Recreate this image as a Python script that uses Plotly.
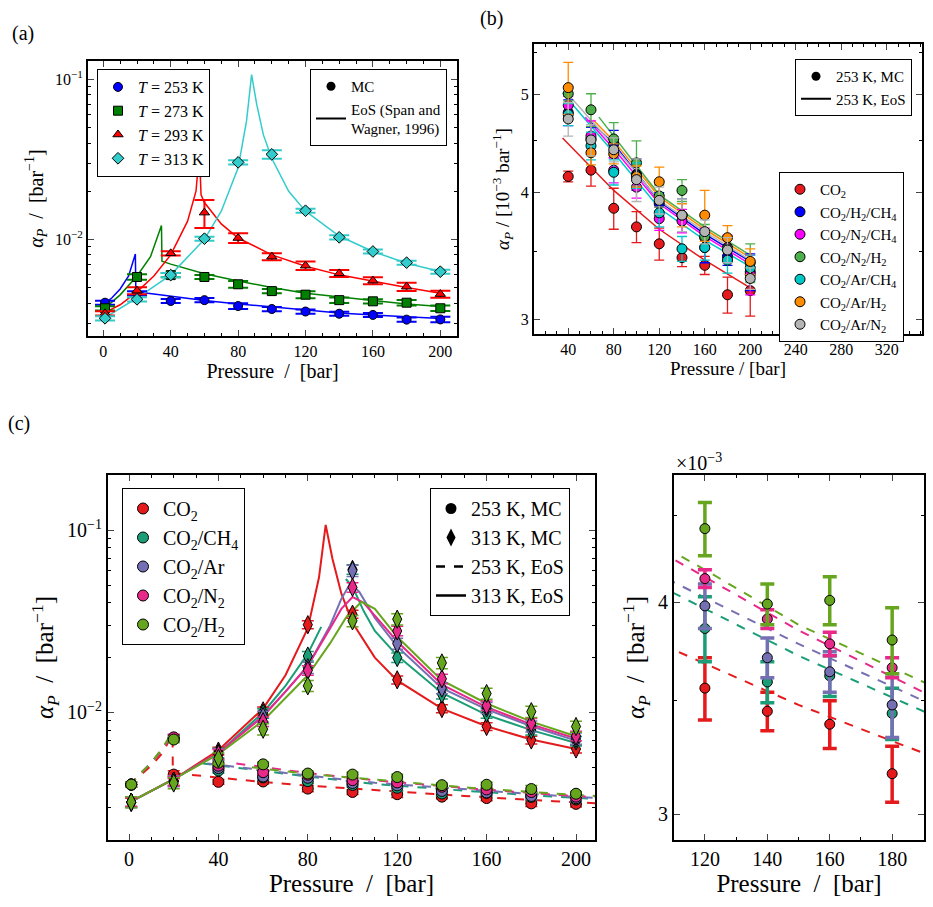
import plotly.graph_objects as go
import numpy as np

FONT = "Liberation Serif, DejaVu Serif, serif"
W, H = 933, 907

# ---------------- Panel (a) data ----------------
pa_x = [1, 20, 40, 60, 80, 100, 120, 140, 160, 180, 200]
a_T = ["253", "273", "293", "313"]
a_val = {
    "253": [4.02e-3, 4.6e-3, 4.12e-3, 4.17e-3, 3.83e-3, 3.67e-3, 3.54e-3, 3.43e-3, 3.37e-3, 3.15e-3, 3.16e-3],
    "273": [3.71e-3, 5.82e-3, 5.98e-3, 5.82e-3, 5.24e-3, 4.75e-3, 4.51e-3, 4.17e-3, 4.1e-3, 4.02e-3, 3.71e-3],
    "293": [3.45e-3, 4.78e-3, 8.18e-3, 1.47e-2, 1.02e-2, 7.8e-3, 6.85e-3, 6.13e-3, 5.52e-3, 5.06e-3, 4.55e-3],
    "313": [3.21e-3, 4.22e-3, 5.98e-3, 1.01e-2, 3.03e-2, 3.4e-2, 1.51e-2, 1.03e-2, 8.4e-3, 7.15e-3, 6.28e-3],
}
a_relerr = {
    "253": [0.03, 0.03, 0.03, 0.03, 0.04, 0.03, 0.03, 0.03, 0.03, 0.03, 0.04],
    "273": [0.03, 0.04, 0.03, 0.03, 0.05, 0.03, 0.05, 0.04, 0.03, 0.04, 0.04],
    "293": [0.03, 0.05, 0.03, 0.2, 0.07, 0.05, 0.06, 0.05, 0.05, 0.06, 0.05],
    "313": [0.03, 0.03, 0.03, 0.03, 0.03, 0.06, 0.03, 0.03, 0.03, 0.03, 0.03],
}
a_eos_p = {
    "253": [0, 5, 10, 15, 19, 19.3, 30, 40, 60, 80, 100, 120, 140, 160, 180, 200],
    "273": [0, 10, 20, 28, 34.5, 34.8, 40, 60, 80, 100, 120, 140, 160, 180, 200],
    "293": [0, 10, 20, 30, 40, 50, 55, 57, 58, 60, 70, 80, 100, 120, 140, 160, 180, 200],
    "313": [0, 20, 40, 60, 70, 80, 85, 88, 91, 95, 100, 110, 120, 140, 160, 180, 200],
}
a_eos_v = {
    "253": [3.95e-3, 4.3e-3, 4.9e-3, 5.9e-3, 8.1e-3, 4.7e-3, 4.55e-3, 4.4e-3, 4.15e-3, 3.95e-3, 3.78e-3, 3.6e-3, 3.47e-3, 3.37e-3, 3.28e-3, 3.2e-3],
    "273": [3.65e-3, 4.5e-3, 5.9e-3, 7.8e-3, 1.22e-2, 7.3e-3, 7.0e-3, 6.1e-3, 5.5e-3, 5.0e-3, 4.6e-3, 4.35e-3, 4.15e-3, 3.95e-3, 3.8e-3],
    "293": [3.45e-3, 3.9e-3, 4.7e-3, 5.9e-3, 8.0e-3, 1.3e-2, 2.0e-2, 3.5e-2, 1.9e-2, 1.7e-2, 1.25e-2, 1.02e-2, 8.0e-3, 6.8e-3, 6.0e-3, 5.45e-3, 5.0e-3, 4.6e-3],
    "313": [3.2e-3, 4.3e-3, 6.0e-3, 1.0e-2, 1.5e-2, 2.8e-2, 5.5e-2, 1.07e-1, 7.0e-2, 4.5e-2, 3.2e-2, 2.0e-2, 1.5e-2, 1.05e-2, 8.4e-3, 7.1e-3, 6.3e-3],
}
a_col = {"253": "#0000ff", "273": "#008000", "293": "#ff0000", "313": "#33cccc"}
a_sym = {"253": "circle", "273": "square", "293": "triangle-up", "313": "diamond"}

# ---------------- Panel (b) data (units 1e-3 bar^-1) ----------------
pb_x = [40, 60, 80, 100, 120, 140, 160, 180, 200]
b_names = ["CO<sub>2</sub>", "CO<sub>2</sub>/H<sub>2</sub>/CH<sub>4</sub>", "CO<sub>2</sub>/N<sub>2</sub>/CH<sub>4</sub>",
           "CO<sub>2</sub>/N<sub>2</sub>/H<sub>2</sub>", "CO<sub>2</sub>/Ar/CH<sub>4</sub>", "CO<sub>2</sub>/Ar/H<sub>2</sub>",
           "CO<sub>2</sub>/Ar/N<sub>2</sub>"]
b_col = ["#e41a1c", "#0000ff", "#ff00ff", "#4daf4a", "#00c8c8", "#ff8c00", "#b4b4b4"]
b_val = [
    [4.15, 4.21, 3.86, 3.70, 3.56, 3.45, 3.39, 3.17, 3.20],
    [4.80, 4.52, 4.47, 4.17, 3.90, 3.80, 3.53, 3.46, 3.34],
    [4.88, 4.55, 4.21, 4.05, 3.77, 3.75, 3.61, 3.53, 3.32],
    [5.01, 4.83, 4.52, 4.28, 3.97, 4.02, 3.62, 3.52, 3.41],
    [4.78, 4.45, 4.19, 4.16, 3.82, 3.52, 3.53, 3.43, 3.37],
    [5.08, 4.38, 4.37, 4.15, 4.10, 3.80, 3.80, 3.61, 3.42],
    [4.73, 4.51, 4.41, 4.12, 3.93, 3.80, 3.66, 3.51, 3.29],
]
b_err = [
    [0.05, 0.15, 0.18, 0.13, 0.13, 0.07, 0.07, 0.13, 0.18],
    [0.14, 0.12, 0.14, 0.15, 0.10, 0.14, 0.12, 0.07, 0.14],
    [0.10, 0.16, 0.12, 0.10, 0.10, 0.10, 0.08, 0.10, 0.15],
    [0.08, 0.18, 0.17, 0.22, 0.10, 0.10, 0.10, 0.10, 0.15],
    [0.12, 0.14, 0.12, 0.12, 0.12, 0.10, 0.10, 0.10, 0.10],
    [0.30, 0.12, 0.10, 0.10, 0.14, 0.10, 0.22, 0.10, 0.10],
    [0.18, 0.16, 0.12, 0.20, 0.12, 0.14, 0.10, 0.10, 0.08],
]
b_eos_p = [[35, 80, 120, 160, 200], [58, 80, 120, 160, 200], [55, 80, 120, 160, 200],
           [67, 80, 120, 160, 200], [35, 80, 120, 160, 200], [62, 80, 120, 160, 200], [40, 80, 120, 160, 200]]
b_eos_v = [[4.53, 4.02, 3.68, 3.43, 3.22], [4.72, 4.47, 3.92, 3.64, 3.42], [4.75, 4.42, 3.90, 3.62, 3.40],
           [4.75, 4.55, 3.98, 3.70, 3.47], [5.02, 4.38, 3.86, 3.59, 3.38], [4.72, 4.50, 3.96, 3.68, 3.45],
           [5.00, 4.45, 3.93, 3.66, 3.43]]

# ---------------- Panel (c)/(d) data ----------------
pc_x = [1, 20, 40, 60, 80, 100, 120, 140, 160, 180, 200]
c_names = ["CO<sub>2</sub>", "CO<sub>2</sub>/CH<sub>4</sub>", "CO<sub>2</sub>/Ar", "CO<sub>2</sub>/N<sub>2</sub>", "CO<sub>2</sub>/H<sub>2</sub>"]
c_col = ["#e41a1c", "#1b9e77", "#7570b3", "#e7298a", "#66a61e"]
c253 = [
    [4.02e-3, 4.56e-3, 4.16e-3, 4.18e-3, 3.82e-3, 3.66e-3, 3.56e-3, 3.45e-3, 3.39e-3, 3.17e-3, 3.15e-3],
    [4.02e-3, 7.2e-3, 4.8e-3, 4.4e-3, 4.2e-3, 4.0e-3, 3.86e-3, 3.59e-3, 3.62e-3, 3.44e-3, 3.33e-3],
    [4.02e-3, 7.25e-3, 4.95e-3, 4.45e-3, 4.38e-3, 4.1e-3, 3.98e-3, 3.71e-3, 3.64e-3, 3.48e-3, 3.38e-3],
    [4.02e-3, 7.3e-3, 5.1e-3, 4.7e-3, 4.55e-3, 4.25e-3, 4.13e-3, 3.91e-3, 3.78e-3, 3.66e-3, 3.45e-3],
    [4.02e-3, 7.1e-3, 5.3e-3, 5.19e-3, 4.62e-3, 4.56e-3, 4.42e-3, 3.99e-3, 4.01e-3, 3.80e-3, 3.58e-3],
]
c253_err = [
    [0.03, 0.05, 0.03, 0.03, 0.04, 0.03, 0.15e-3, 0.09e-3, 0.11e-3, 0.12e-3, 0.04],
    [0.03, 0.04, 0.03, 0.03, 0.03, 0.03, 0.17e-3, 0.10e-3, 0.10e-3, 0.12e-3, 0.03],
    [0.03, 0.04, 0.03, 0.03, 0.03, 0.03, 0.12e-3, 0.10e-3, 0.10e-3, 0.15e-3, 0.03],
    [0.03, 0.04, 0.03, 0.03, 0.03, 0.03, 0.05e-3, 0.05e-3, 0.06e-3, 0.05e-3, 0.03],
    [0.03, 0.04, 0.03, 0.03, 0.03, 0.03, 0.16e-3, 0.11e-3, 0.13e-3, 0.17e-3, 0.03],
]
c313 = [
    [3.22e-3, 4.2e-3, 6.14e-3, 1.02e-2, 3.03e-2, 3.46e-2, 1.51e-2, 1.05e-2, 8.37e-3, 7.06e-3, 6.3e-3],
    [3.22e-3, 4.2e-3, 6.0e-3, 9.9e-3, 2.04e-2, 6.1e-2, 2.0e-2, 1.26e-2, 9.9e-3, 8.0e-3, 6.97e-3],
    [3.22e-3, 4.2e-3, 5.9e-3, 9.5e-3, 1.76e-2, 6.0e-2, 2.39e-2, 1.36e-2, 1.06e-2, 8.4e-3, 7.2e-3],
    [3.22e-3, 4.2e-3, 5.9e-3, 8.9e-3, 1.7e-2, 4.86e-2, 2.8e-2, 1.53e-2, 1.09e-2, 8.73e-3, 7.43e-3],
    [3.22e-3, 4.1e-3, 5.6e-3, 8.09e-3, 1.4e-2, 3.18e-2, 3.25e-2, 1.87e-2, 1.27e-2, 1.01e-2, 8.37e-3],
]
c313_relerr = [0.05, 0.06, 0.07, 0.06, 0.07]
c253_eos_p = [
    [0, 5, 10, 15, 19.5, 19.6, 40, 60, 80, 110, 150, 190, 210],
    [0, 5, 10, 15, 20, None, 33, 60, 80, 110, 150, 190, 210],
    [0, 5, 10, 15, 20, None, 35, 60, 80, 110, 150, 190, 210],
    [0, 5, 10, 15, 20, None, 48, 60, 80, 110, 150, 190, 210],
    [0, 5, 10, 15, 20, None, 55, 80, 120, 150, 190, 210, 210],
]
c253_eos_v = [
    [4.0e-3, 4.5e-3, 5.1e-3, 6.0e-3, 7.6e-3, 4.65e-3, 4.4e-3, 4.15e-3, 3.97e-3, 3.75e-3, 3.48e-3, 3.26e-3, 3.17e-3],
    [4.0e-3, 4.6e-3, 5.3e-3, 6.3e-3, 7.9e-3, None, 5.25e-3, 4.75e-3, 4.45e-3, 4.05e-3, 3.72e-3, 3.45e-3, 3.35e-3],
    [4.0e-3, 4.6e-3, 5.3e-3, 6.3e-3, 7.8e-3, None, 5.25e-3, 4.8e-3, 4.5e-3, 4.11e-3, 3.78e-3, 3.50e-3, 3.39e-3],
    [4.0e-3, 4.6e-3, 5.3e-3, 6.3e-3, 7.8e-3, None, 5.25e-3, 5.0e-3, 4.65e-3, 4.24e-3, 3.85e-3, 3.54e-3, 3.43e-3],
    [4.0e-3, 4.6e-3, 5.3e-3, 6.4e-3, 8.0e-3, None, 5.0e-3, 4.6e-3, 4.18e-3, 3.88e-3, 3.59e-3, 3.47e-3, 3.47e-3],
]
c313_eos_p = [
    [0, 20, 40, 60, 70, 80, 85, 88, 91, 95, 100, 110, 120, 140, 160, 180, 200],
    [0, 20, 40, 60, 70, 80, 86, None, 97, 100, 105, 110, 120, 140, 160, 180, 200],
    [0, 20, 40, 60, 70, 80, 90, 95, 99, 103, 110, 120, 140, 160, 180, 200],
    [0, 20, 40, 60, 70, 80, 90, 95, 100, 105, 110, 120, 140, 160, 180, 200],
    [0, 20, 40, 60, 70, 80, 90, 97, 104, 110, 120, 140, 160, 180, 200],
]
c313_eos_v = [
    [3.2e-3, 4.3e-3, 6.2e-3, 1.05e-2, 1.6e-2, 2.9e-2, 5.5e-2, 1.07e-1, 7.0e-2, 4.5e-2, 3.1e-2, 2.0e-2, 1.5e-2, 1.05e-2, 8.4e-3, 7.1e-3, 6.3e-3],
    [3.2e-3, 4.3e-3, 6.0e-3, 1.0e-2, 1.4e-2, 2.1e-2, 2.95e-2, None, 5.4e-2, 4.9e-2, 3.6e-2, 2.8e-2, 2.05e-2, 1.28e-2, 9.7e-3, 8.0e-3, 6.8e-3],
    [3.2e-3, 4.3e-3, 6.0e-3, 9.6e-3, 1.3e-2, 1.8e-2, 3.0e-2, 4.2e-2, 5.1e-2, 4.6e-2, 3.3e-2, 2.3e-2, 1.36e-2, 1.04e-2, 8.4e-3, 7.0e-3],
    [3.2e-3, 4.3e-3, 6.0e-3, 9.5e-3, 1.3e-2, 1.8e-2, 2.9e-2, 3.7e-2, 4.3e-2, 4.0e-2, 3.4e-2, 2.45e-2, 1.42e-2, 1.07e-2, 8.6e-3, 7.2e-3],
    [3.2e-3, 4.3e-3, 5.9e-3, 9.0e-3, 1.2e-2, 1.6e-2, 2.4e-2, 3.3e-2, 4.05e-2, 3.7e-2, 2.6e-2, 1.5e-2, 1.12e-2, 8.9e-3, 7.4e-3],
]
d_x = [120, 140, 160, 180]

# ---------------- figure ----------------
fig = go.Figure()

def dom(x0, x1, y0, y1):
    return [x0 / W, x1 / W], [1 - y1 / H, 1 - y0 / H]

axes = {
    "a": dom(88, 457, 61, 336),
    "b": dom(534, 922, 44, 334),
    "c": dom(108, 595, 475, 840),
    "d": dom(674, 924, 475, 840),
}

def logminor(lo, hi):
    out = []
    for e in range(lo, hi + 1):
        for m in range(2, 10):
            out.append(m * 10.0 ** e)
    return out

def xax(dm, rng, dt, mdt, fs, title, ts, anchor):
    return dict(domain=dm, range=rng, dtick=dt, tick0=0, ticks="inside", ticklen=6, tickwidth=1,
                mirror="allticks", showline=True, linecolor="black", linewidth=2, showgrid=False,
                zeroline=False, tickfont=dict(size=fs, family=FONT, color="black"),
                minor=dict(dtick=mdt, tick0=0, ticks="inside", ticklen=3, tickcolor="black"),
                title=dict(text=title, font=dict(size=ts, family=FONT, color="black"), standoff=4),
                anchor=anchor)

def yax(dm, rng, tv, tt, mv, fs, title, ts, anchor):
    return dict(domain=dm, type="log", range=rng, tickvals=tv, ticktext=tt, ticks="inside", ticklen=6,
                tickwidth=1, mirror="allticks", showline=True, linecolor="black", linewidth=2,
                showgrid=False, zeroline=False, tickfont=dict(size=fs, family=FONT, color="black"),
                minor=dict(tickvals=mv, ticks="inside", ticklen=3, tickcolor="black"),
                title=dict(text=title, font=dict(size=ts, family=FONT, color="black"), standoff=6),
                anchor=anchor)

ylab = "<i>α</i><sub><i>P</i></sub>  /  [bar<sup>−1</sup>]"
xlab = "Pressure  /  [bar]"
dec = ["10<sup>−3</sup>", "10<sup>−2</sup>", "10<sup>−1</sup>"]

lay = dict(
    xaxis=xax(axes["a"][0], [-9.1, 209.9], 40, 10, 16, xlab, 20, "y"),
    yaxis=yax(axes["a"][1], [-2.604, -0.885], [1e-3, 1e-2, 1e-1], dec, logminor(-3, -1), 16, ylab, 20, "x"),
    xaxis2=xax(axes["b"][0], [9.9, 351], 40, 10, 16, "Pressure / [bar]", 19, "y2"),
    yaxis2=yax(axes["b"][1], [0.4623, 0.749], [3, 4, 5], ["3", "4", "5"], [3.5, 4.5, 5.5], 16,
               "<i>α</i><sub><i>P</i></sub> / [10<sup>−3</sup> bar<sup>−1</sup>]", 19, "x2"),
    xaxis3=xax(axes["c"][0], [-9.4, 208.5], 40, 10, 20, xlab, 25, "y3"),
    yaxis3=yax(axes["c"][1], [-2.70, -0.697], [1e-3, 1e-2, 1e-1], dec, logminor(-3, -1), 20, ylab, 25, "x3"),
    xaxis4=xax(axes["d"][0], [110.1, 190.2], 20, 10, 20, xlab, 25, "y4"),
    yaxis4=yax(axes["d"][1], [0.462, 0.677], [3, 4], ["3", "4"], [3.5, 4.5], 20, ylab, 25, "x4"),
)

def add_err(xa, ya, x, y, err, col, sym, size, thick, cap, name=None, legend=None, show=False, lw=1):
    fig.add_trace(go.Scatter(
        x=x, y=y, mode="markers", xaxis=xa, yaxis=ya, name=name, legend=legend, showlegend=show,
        marker=dict(symbol=sym, size=size, color=col, line=dict(color="black", width=lw)),
        error_y=dict(type="data", array=err, color=col, thickness=thick, width=cap)))

def add_line(xa, ya, x, y, col, dash="solid", w=1.5):
    fig.add_trace(go.Scatter(x=x, y=y, mode="lines", xaxis=xa, yaxis=ya, showlegend=False,
                             line=dict(color=col, dash=dash, width=w), connectgaps=False))

# panel a
for T in a_T:
    add_line("x", "y", a_eos_p[T], a_eos_v[T], a_col[T], w=1.5)
for T in a_T:
    err = [v * r for v, r in zip(a_val[T], a_relerr[T])]
    add_err("x", "y", pa_x, a_val[T], err, a_col[T], a_sym[T], 9, 2, 10,
            name=f"<i>T</i> = {T} K", legend="legend", show=True)
fig.add_trace(go.Scatter(x=[None], y=[None], mode="markers", xaxis="x", yaxis="y", legend="legend2",
                         name="MC", marker=dict(color="black", size=9)))
fig.add_trace(go.Scatter(x=[None], y=[None], mode="lines", xaxis="x", yaxis="y", legend="legend2",
                         name="EoS (Span and<br>Wagner, 1996)", line=dict(color="black", width=2)))

# panel b
for i in range(len(b_names)):
    add_line("x2", "y2", b_eos_p[i], b_eos_v[i], b_col[i], w=1.5)
for i in range(len(b_names)):
    add_err("x2", "y2", pb_x, b_val[i], b_err[i], b_col[i], "circle", 10, 1.3, 5,
            name=b_names[i], legend="legend4", show=True)
fig.add_trace(go.Scatter(x=[None], y=[None], mode="markers", xaxis="x2", yaxis="y2", legend="legend3",
                         name="253 K, MC", marker=dict(color="black", size=9)))
fig.add_trace(go.Scatter(x=[None], y=[None], mode="lines", xaxis="x2", yaxis="y2", legend="legend3",
                         name="253 K, EoS", line=dict(color="black", width=2)))

# panel c
for i in range(5):
    add_line("x3", "y3", c253_eos_p[i], c253_eos_v[i], c_col[i], dash="dash", w=2)
    add_line("x3", "y3", c313_eos_p[i], c313_eos_v[i], c_col[i], w=2)
for i in range(5):
    err253 = [r if r < 0.01 else v * r for v, r in zip(c253[i], c253_err[i])]
    add_err("x3", "y3", pc_x, c253[i], err253, c_col[i], "circle", 11, 1.5, 6,
            name=c_names[i], legend="legend5", show=True)
for i in range(5):
    err313 = [v * c313_relerr[i] for v in c313[i]]
    add_err("x3", "y3", pc_x, c313[i], err313, c_col[i], "diamond-tall", 13, 1.5, 6)
for nm, md, kw in [("253 K, MC", "markers", dict(marker=dict(color="black", size=11))),
                   ("313 K, MC", "markers", dict(marker=dict(color="black", size=13, symbol="diamond-tall"))),
                   ("253 K, EoS", "lines", dict(line=dict(color="black", width=2.5, dash="dash"))),
                   ("313 K, EoS", "lines", dict(line=dict(color="black", width=2.5)))]:
    fig.add_trace(go.Scatter(x=[None], y=[None], mode=md, xaxis="x3", yaxis="y3", legend="legend6", name=nm, **kw))

# panel d (values in 1e-3 units)
for i in range(5):
    add_line("x4", "y4", c253_eos_p[i], [None if v is None else v * 1e3 for v in c253_eos_v[i]],
             c_col[i], dash="dash", w=2)
for i in range(5):
    idx = [pc_x.index(p) for p in d_x]
    add_err("x4", "y4", d_x, [c253[i][k] * 1e3 for k in idx], [c253_err[i][k] * 1e3 for k in idx],
            c_col[i], "circle", 10, 3.5, 7)

def leg(x, y, fs):
    return dict(x=x / W, y=1 - y / H, xanchor="left", yanchor="top", bgcolor="white", bordercolor="black",
                borderwidth=1, font=dict(family=FONT, size=fs, color="black"), tracegroupgap=0)

lay["legend"] = leg(97, 69, 16)
lay["legend2"] = leg(310, 69, 15)
lay["legend3"] = leg(795, 59, 15)
lay["legend4"] = leg(779, 172, 15)
lay["legend5"] = leg(122, 488, 20)
lay["legend6"] = leg(430, 488, 20)

anns = [
    dict(text="(a)", x=10 / W, y=1 - 33 / H),
    dict(text="(b)", x=478 / W, y=1 - 18 / H),
    dict(text="(c)", x=6 / W, y=1 - 423 / H),
    dict(text="×10<sup>−3</sup>", x=674 / W, y=1 - 462 / H),
]
lay["annotations"] = [dict(xref="paper", yref="paper", showarrow=False, xanchor="left", yanchor="middle",
                           font=dict(family=FONT, size=20, color="black"), **a) for a in anns]

fig.update_layout(width=W, height=H, margin=dict(l=0, r=0, t=0, b=0), plot_bgcolor="white",
                  paper_bgcolor="white", font=dict(family=FONT, color="black"), **lay)
fig.write_html("out.html", config={"displayModeBar": False},
               post_script="document.body.style.margin='0';document.body.style.overflow='hidden';")
